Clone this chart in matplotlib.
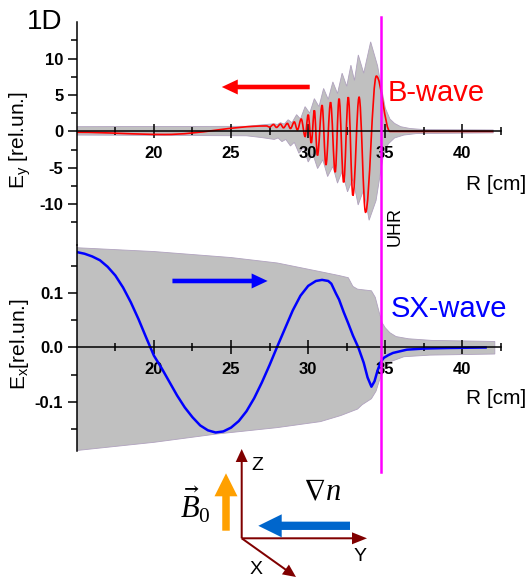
import matplotlib
matplotlib.use('Agg')
import matplotlib.pyplot as plt
import numpy as np
from matplotlib.path import Path
from matplotlib.patches import PathPatch, FancyArrow

plt.rcParams.update({
    'font.family': 'Liberation Sans',
    'axes.unicode_minus': False,
    'mathtext.fontset': 'custom',
    'mathtext.rm': 'Liberation Serif',
    'mathtext.it': 'Liberation Serif:italic',
    'mathtext.fallback': 'stix',
})

# ---- B-wave (E_y): extrema of the field profile along R ----
bw_R = [15.0, 20.7, 27.3, 27.5, 27.75, 27.95, 28.2, 28.4, 28.65, 28.85, 29.1, 29.3,
        29.55, 29.8, 30.0, 30.2, 30.4, 30.6, 30.9, 31.15, 31.45, 31.75, 32.0, 32.3,
        32.6, 32.9, 33.3, 33.72, 34.42, 35.3, 42.0]
bw_E = [-0.12, -0.42, 0.75, 0.6, 0.95, 0.55, 1.0, 0.5, 1.1, 0.4, 1.3, 0.2,
        1.7, -0.7, 2.3, -1.6, 2.9, -3.3, 3.6, -4.6, 4.0, -5.6, 4.5, -7.0,
        4.7, -8.8, 4.7, -11.1, 7.6, 0.0, 0.0]

# envelope of E_y over the wave period (upper / lower edge)
bw_env_up_R = [15.0, 26.0, 27.0, 27.8, 28.0, 28.2, 28.45, 28.7, 28.95, 29.25, 29.5, 29.8,
               30.1, 30.4, 30.7, 31.0, 31.3, 31.6, 31.9, 32.2, 32.5, 32.77, 33.0, 33.25,
               33.6, 34.05, 34.5, 34.75, 35.0, 35.3, 35.6, 36.0, 36.6, 37.5, 42.0]
bw_env_up_E = [0.65, 0.7, 0.9, 1.05, 0.95, 1.2, 1.0, 1.6, 1.2, 2.3, 1.7, 3.4,
               2.5, 4.5, 3.4, 5.9, 4.4, 6.8, 5.2, 8.0, 6.2, 9.1, 7.0, 10.5,
               8.0, 12.3, 9.0, 6.0, 3.2, 1.7, 1.1, 0.65, 0.4, 0.25, 0.2]
bw_env_lo_R = [15.0, 26.0, 27.0, 27.8, 28.05, 28.3, 28.55, 28.85, 29.1, 29.4, 29.7, 30.0,
               30.3, 30.61, 30.95, 31.26, 31.6, 31.9, 32.2, 32.55, 32.9, 33.24, 33.6, 33.95,
               34.4, 34.7, 34.9, 35.2, 35.6, 36.2, 37.0, 42.0]
bw_env_lo_E = [-0.5, -0.6, -0.85, -1.1, -0.9, -1.4, -1.1, -2.0, -1.5, -3.0, -2.2, -4.2,
               -3.1, -5.1, -3.9, -6.2, -4.8, -7.1, -5.5, -8.3, -6.5, -10.1, -8.0, -12.2,
               -9.5, -5.5, -3.0, -1.7, -0.9, -0.5, -0.3, -0.2]

# ---- SX-wave (E_x) ----
sx_R = [15.0, 15.5, 16.0, 16.5, 17.0, 17.5, 18.0, 18.5, 19.0, 19.5, 20.0, 20.5,
        21.0, 21.5, 22.0, 22.5, 23.0, 23.5, 24.0, 24.5, 25.0, 25.5, 26.0, 26.5,
        27.0, 27.5, 28.0, 28.5, 29.0, 29.5, 30.0, 30.5, 30.9, 31.3, 31.5, 31.8,
        32.0, 32.3, 32.6, 32.9, 33.25, 33.6, 33.85, 34.1, 34.3, 34.5, 34.7, 34.9,
        35.2, 35.5, 36.4, 37.5, 39.0, 41.5]
sx_E = [0.175, 0.172, 0.167, 0.160, 0.148, 0.132, 0.110, 0.083, 0.052, 0.018, -0.015, -0.038,
        -0.063, -0.088, -0.110, -0.128, -0.143, -0.152, -0.156, -0.154, -0.147, -0.135, -0.117, -0.093,
        -0.064, -0.032, 0.002, 0.035, 0.068, 0.095, 0.113, 0.122, 0.124, 0.122, 0.117, 0.099,
        0.088, 0.065, 0.044, 0.022, 0.0, -0.028, -0.055, -0.072, -0.062, -0.042, -0.027, -0.019,
        -0.014, -0.010, -0.004, -0.002, -0.001, 0.0]

sx_env_up_R = [15.0, 20.0, 25.0, 28.0, 30.8, 32.0, 32.6, 32.9, 33.2, 34.1, 34.35, 34.6,
               34.8, 35.0, 35.3, 35.7, 36.5, 38.0, 42.1]
sx_env_up_E = [0.183, 0.176, 0.165, 0.155, 0.139, 0.132, 0.128, 0.112, 0.107, 0.104, 0.092, 0.065,
               0.045, 0.036, 0.027, 0.020, 0.016, 0.013, 0.011]
sx_env_lo_R = [15.0, 20.0, 24.0, 28.0, 30.8, 32.1, 33.2, 33.5, 34.1, 34.4, 34.6, 34.92,
               35.35, 36.2, 37.9, 42.1]
sx_env_lo_E = [-0.189, -0.174, -0.159, -0.147, -0.136, -0.125, -0.113, -0.105, -0.094, -0.080, -0.062, -0.041,
               -0.026, -0.017, -0.014, -0.012]

R_uhr = 34.73
major_R = [20, 25, 30, 35, 40]
minor_R = [17.5, 22.5, 27.5, 32.5, 37.5, 42.5]

W, H = 528, 581


def px_box(x0, y0, x1, y1):
    return [x0 / W, 1 - y1 / H, (x1 - x0) / W, (y1 - y0) / H]


def smooth_through(xs, ys, k=0.36):
    # cubic segments with flat tangents at every extremum
    verts = [(xs[0], ys[0])]
    codes = [Path.MOVETO]
    for x0, y0, x1, y1 in zip(xs[:-1], ys[:-1], xs[1:], ys[1:]):
        d = (x1 - x0) * k
        verts += [(x0 + d, y0), (x1 - d, y1), (x1, y1)]
        codes += [Path.CURVE4] * 3
    return Path(verts, codes)


def style_axis(ax, yticks, ylabels, yminor, ylim):
    ax.set_facecolor('none')
    ax.set_xlim(15, 42.5)
    ax.set_ylim(*ylim)
    for s in ('top', 'right'):
        ax.spines[s].set_visible(False)
    ax.spines['bottom'].set_position(('data', 0))
    ax.spines['left'].set_linewidth(1.1)
    ax.spines['bottom'].set_linewidth(1.1)
    ax.set_xticks(major_R, [str(v) for v in major_R])
    ax.set_xticks(minor_R, minor=True)
    ax.set_yticks(yticks, ylabels)
    ax.set_yticks(yminor, minor=True)
    ax.tick_params(axis='x', which='major', direction='inout', length=10, width=1.1, pad=5.5)
    ax.tick_params(axis='x', which='minor', direction='inout', length=5.5, width=1.1)
    ax.tick_params(axis='y', which='major', direction='out', length=6.5, width=1.1, pad=3.2)
    ax.tick_params(axis='y', which='minor', direction='out', length=4.3, width=1.1)
    for lab in ax.get_xticklabels() + ax.get_yticklabels():
        lab.set_fontweight('bold')
        lab.set_fontsize(12)


fig = plt.figure(figsize=(W / 100, H / 100), dpi=100)
ax_top = fig.add_axes(px_box(76.8, 22.2, 501, 245))
ax_bot = fig.add_axes(px_box(76.8, 245, 501, 450.5))
ax_top.set_zorder(3)
ax_bot.set_zorder(2)
ov = fig.add_axes([0, 0, 1, 1])
ov.set_zorder(1)
ov.set_xlim(0, W)
ov.set_ylim(H, 0)
ov.set_axis_off()

gray_kw = dict(facecolor='#c0c0c0', edgecolor='#b0a2be', lw=0.6, zorder=1)
arrow_style = 'simple,head_length=1.15,head_width=1.08,tail_width=0.33'

# top panel: B-wave
ax_top.fill(np.concatenate([bw_env_up_R, bw_env_lo_R[::-1]]),
            np.concatenate([bw_env_up_E, bw_env_lo_E[::-1]]), **gray_kw)
ax_top.add_patch(PathPatch(smooth_through(bw_R, bw_E), fill=False,
                           edgecolor='#ff0000', lw=1.2, zorder=2))
style_axis(ax_top, [-10, -5, 0, 5, 10], ['-10', '-5', '0', '5', '10'],
           [-12.5, -7.5, -2.5, 2.5, 7.5, 12.5], (-15.6, 15.0))
ax_top.annotate('', xy=(24.4, 6.1), xytext=(30.1, 6.1),
                arrowprops=dict(arrowstyle=arrow_style, mutation_scale=10,
                                fc='#ff0000', ec='none', lw=0, shrinkA=0, shrinkB=0))
ax_top.axvline(R_uhr, ymin=-1.02, ymax=1.024, color='#ff00ff', lw=1.8,
               clip_on=False, zorder=5)

# bottom panel: SX-wave
ax_bot.fill(np.concatenate([sx_env_up_R, sx_env_lo_R[::-1]]),
            np.concatenate([sx_env_up_E, sx_env_lo_E[::-1]]), **gray_kw)
ax_bot.plot(sx_R, sx_E, color='#0000ff', lw=1.8, zorder=2)
style_axis(ax_bot, [-0.1, 0.0, 0.1], ['-0.1', '0.0', '0.1'],
           [-0.15, -0.05, 0.05, 0.15], (-0.189, 0.188))
ax_bot.annotate('', xy=(27.37, 0.122), xytext=(21.2, 0.122),
                arrowprops=dict(arrowstyle=arrow_style, mutation_scale=10,
                                fc='#0000ff', ec='none', lw=0, shrinkA=0, shrinkB=0))

# labels
ov.text(27, 29, '1D', fontsize=20, va='baseline', ha='left')
ov.text(20, 140, 'E$_\\mathregular{y}$ [rel.un.]', fontsize=15, rotation=90,
        ha='center', va='center')
ov.text(20, 344, 'E$_\\mathregular{x}$[rel.un.]', fontsize=15, rotation=90,
        ha='center', va='center')
ov.text(466, 190, 'R [cm]', fontsize=15, va='baseline', ha='left')
ov.text(466, 403.5, 'R [cm]', fontsize=15, va='baseline', ha='left')
ov.text(388, 101, 'B-wave', fontsize=21, color='#ff0000', va='baseline', ha='left')
ov.text(391, 317, 'SX-wave', fontsize=21, color='#0000ff', va='baseline', ha='left')
ov.text(395, 227, 'UHR', fontsize=13, rotation=90, ha='center', va='center')

# coordinate sketch
maroon = '#800000'
for dx, dy, hl in [(0, -89.3, 13), (125.3, 0, 15), (54.3, 38.7, 13)]:
    ov.add_patch(FancyArrow(241.7, 538.3, dx, dy, width=2, head_width=12, head_length=hl,
                            length_includes_head=True, color=maroon, lw=0))
ov.add_patch(FancyArrow(226, 530.7, 0, -57.4, width=7.5, head_width=23, head_length=23,
                        length_includes_head=True, color='#ffa000', lw=0))
ov.add_patch(FancyArrow(350, 525.8, -91.7, 0, width=8.3, head_width=23, head_length=23.4,
                        length_includes_head=True, color='#0066cc', lw=0))
ov.text(257, 466, 'Z', fontsize=14, ha='center', va='center')
ov.text(360.5, 556.5, 'Y', fontsize=14, ha='center', va='center')
ov.text(256, 570, 'X', fontsize=14, ha='center', va='center')
ov.text(195, 505, '$\\vec{B}_{\\mathit{0}}$', fontsize=22, ha='center', va='center')
ov.text(322, 492, '$\\nabla n$', fontsize=22, ha='center', va='center')

fig.savefig('out.png', dpi=100)
